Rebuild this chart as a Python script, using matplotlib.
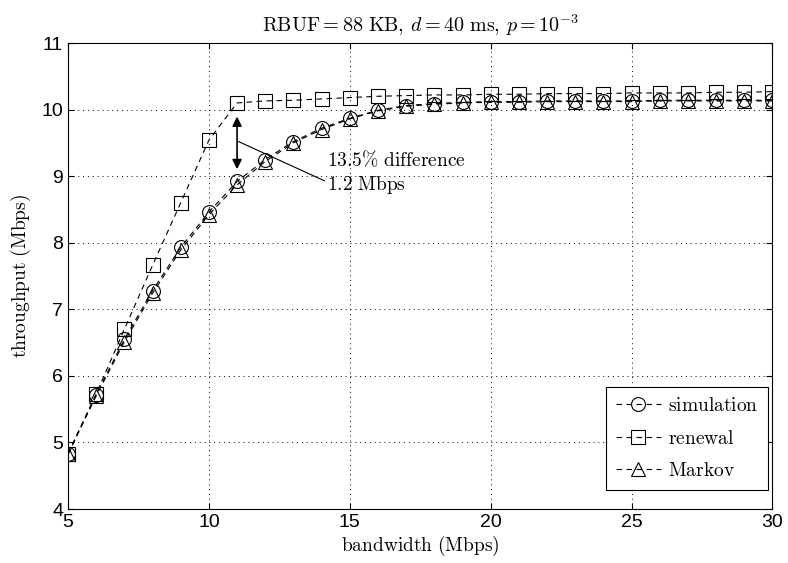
"""
Throughput vs bandwidth: simulation, renewal and Markov models
"""
import matplotlib
matplotlib.use('Agg')
import matplotlib.pyplot as plt

plt.rcParams['mathtext.fontset'] = 'cm'
plt.rcParams['font.family'] = ['Liberation Sans', 'DejaVu Sans']

# data
bandwidth = list(range(5, 31))
simulation = [4.83, 5.72, 6.55, 7.28, 7.93, 8.46, 8.92, 9.25, 9.52, 9.72, 9.87,
              9.99, 10.06, 10.09, 10.11, 10.12, 10.12, 10.13, 10.13, 10.13, 10.13,
              10.14, 10.14, 10.14, 10.14, 10.14]
renewal = [4.83, 5.73, 6.70, 7.66, 8.60, 9.54, 10.10, 10.13, 10.14, 10.16, 10.18,
           10.20, 10.21, 10.22, 10.22, 10.23, 10.23, 10.24, 10.24, 10.24, 10.25,
           10.25, 10.25, 10.26, 10.26, 10.27]
markov = [4.82, 5.70, 6.51, 7.24, 7.89, 8.42, 8.87, 9.22, 9.50, 9.70, 9.86,
          9.98, 10.05, 10.08, 10.10, 10.11, 10.11, 10.12, 10.12, 10.12, 10.12,
          10.13, 10.13, 10.13, 10.13, 10.13]

fig = plt.figure(figsize=(7.88, 5.63), dpi=100)
ax = fig.add_axes([0.0863, 0.0959, 0.894, 0.8277])

style = dict(color='black', linestyle='--', linewidth=0.8, markersize=10,
             markerfacecolor='none', markeredgewidth=0.8, dashes=(5, 4))
ax.plot(bandwidth, simulation, marker='o', label=r'$\mathrm{simulation}$', **style)
ax.plot(bandwidth, renewal, marker='s', label=r'$\mathrm{renewal}$', **style)
ax.plot(bandwidth, markov, marker='^', label=r'$\mathrm{Markov}$', **style)

# annotation of the gap at 11 Mbps
ax.annotate('', xy=(11, 9.0), xytext=(11, 10.0),
            arrowprops=dict(arrowstyle='<|-|>', color='black', lw=1.2,
                            mutation_scale=14, shrinkA=5, shrinkB=5))
ax.plot([11.05, 14.1], [9.52, 8.93], color='black', linewidth=0.8)
ax.text(14.2, 9.24, r'$\mathrm{13.5\%\ difference}$', fontsize=14, va='center')
ax.text(14.2, 8.87, r'$\mathrm{1.2\ Mbps}$', fontsize=14, va='center')

ax.set_xlim(5, 30)
ax.set_ylim(4, 11)
ax.set_xticks([5, 10, 15, 20, 25, 30])
ax.set_yticks(range(4, 12))
ax.grid(True, color='black', linestyle=(0, (1, 4)), linewidth=0.7)
ax.tick_params(direction='in', length=4, top=True, right=True, labelsize=14)
for s in ax.spines.values():
    s.set_linewidth(0.8)

ax.set_title(r'$\mathrm{RBUF} = 88\ \mathrm{KB},\, d = 40\ \mathrm{ms},\, p = 10^{-3}$',
             fontsize=14.5, pad=8)
ax.set_xlabel(r'$\mathrm{bandwidth\ (Mbps)}$', fontsize=14, labelpad=2)
ax.set_ylabel(r'$\mathrm{throughput\ (Mbps)}$', fontsize=14, labelpad=6)

leg = ax.legend(loc='lower right', bbox_to_anchor=(0.994, 0.041), fontsize=14,
                handlelength=2.3, handletextpad=0.4, fancybox=False,
                framealpha=1, edgecolor='black', borderpad=0.5,
                labelspacing=0.75, borderaxespad=0)
leg.get_frame().set_linewidth(0.8)

plt.savefig('out.png', dpi=100)
plt.close()
